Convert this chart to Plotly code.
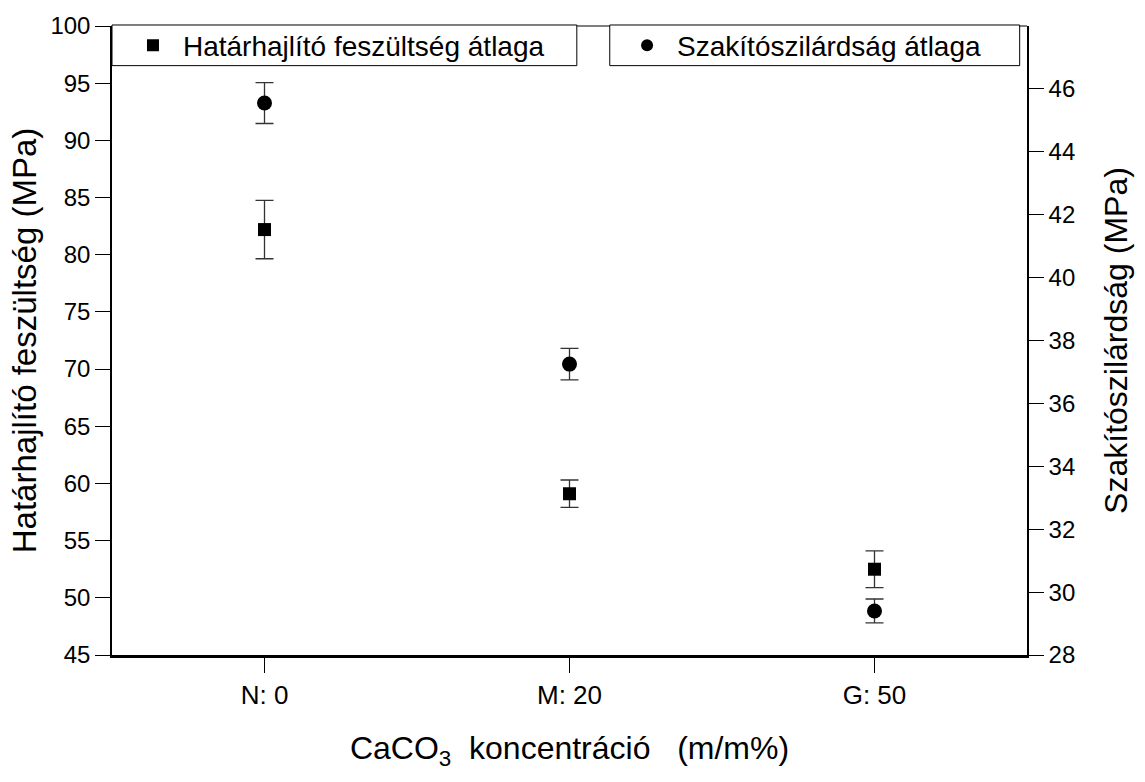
import plotly.graph_objects as go

# CaCO3 concentration groups
categories = ["N: 0", "M: 20", "G: 50"]
cat_pos = [0, 1, 2]

# Flexural strength (left axis), MPa
flex_mean = [82.2, 59.1, 52.5]
flex_err = [2.55, 1.2, 1.6]

# Tensile strength (right axis), MPa
tens_mean = [45.55, 37.25, 29.4]
tens_err = [0.65, 0.5, 0.38]

left_ticks = [45, 50, 55, 60, 65, 70, 75, 80, 85, 90, 95, 100]
right_ticks = [28, 30, 32, 34, 36, 38, 40, 42, 44, 46]

FONT = "Liberation Sans, Arial, sans-serif"

fig = go.Figure()

fig.add_trace(go.Scatter(
    x=cat_pos, y=flex_mean, mode="markers",
    name="Határhajlító feszültség átlaga",
    marker=dict(symbol="square", size=13, color="black"),
    error_y=dict(type="data", array=flex_err, visible=True,
                 color="#333333", thickness=1.3, width=9),
    legend="legend",
))

fig.add_trace(go.Scatter(
    x=cat_pos, y=tens_mean, mode="markers",
    name="Szakítószilárdság átlaga",
    marker=dict(symbol="circle", size=15, color="black"),
    error_y=dict(type="data", array=tens_err, visible=True,
                 color="#333333", thickness=1.3, width=9),
    yaxis="y2",
    legend="legend2",
))


def axis_style(**over):
    base = dict(
        showgrid=False, zeroline=False, showline=True,
        linecolor="black", linewidth=1.5,
        ticks="outside", ticklen=15, tickwidth=1.2, tickcolor="black",
        tickfont=dict(family=FONT, size=24, color="black"),
    )
    base.update(over)
    return base


legend_style = dict(
    yanchor="middle", y=0.969,
    xanchor="left",
    bgcolor="rgba(0,0,0,0)", borderwidth=0,
    font=dict(family=FONT, size=28, color="black"),
    itemsizing="constant", itemwidth=50,
)

fig.update_layout(
    width=1145, height=782,
    margin=dict(l=112, r=118, t=20, b=127),
    paper_bgcolor="white", plot_bgcolor="white",
    xaxis=axis_style(
        linewidth=2.5,
        range=[-0.5, 2.5],
        tickmode="array", tickvals=cat_pos, ticktext=categories,
        tickfont=dict(family=FONT, size=26, color="black"),
        title=dict(text="CaCO<sub>3</sub>\u00a0\u00a0koncentráció\u00a0\u00a0\u00a0(m/m%)",
                   font=dict(family=FONT, size=32, color="black"),
                   standoff=28),
    ),
    yaxis=axis_style(
        range=[45, 100],
        tickmode="array", tickvals=left_ticks,
        title=dict(text="Határhajlító feszültség (MPa)",
                   font=dict(family=FONT, size=33, color="black"),
                   standoff=4),
    ),
    yaxis2=axis_style(
        range=[28, 48],
        overlaying="y", side="right",
        tickmode="array", tickvals=right_ticks,
        title=dict(text="Szakítószilárdság (MPa)",
                   font=dict(family=FONT, size=32, color="black"),
                   standoff=30),
    ),
    legend=dict(legend_style, x=0.012),
    legend2=dict(legend_style, x=0.552),
    showlegend=True,
)

# framed boxes behind the two legend entries
for x0, x1 in [(0.0, 0.508), (0.544, 0.992)]:
    fig.add_shape(type="rect", xref="paper", yref="paper",
                  x0=x0, x1=x1, y0=0.937, y1=1.0016,
                  line=dict(color="black", width=1), fillcolor="white",
                  layer="above")

# top border of the frame
fig.add_shape(type="line", xref="paper", yref="paper", x0=0, x1=1, y0=1, y1=1,
              line=dict(color="black", width=1.2), layer="below")

fig.write_html("out.html")
